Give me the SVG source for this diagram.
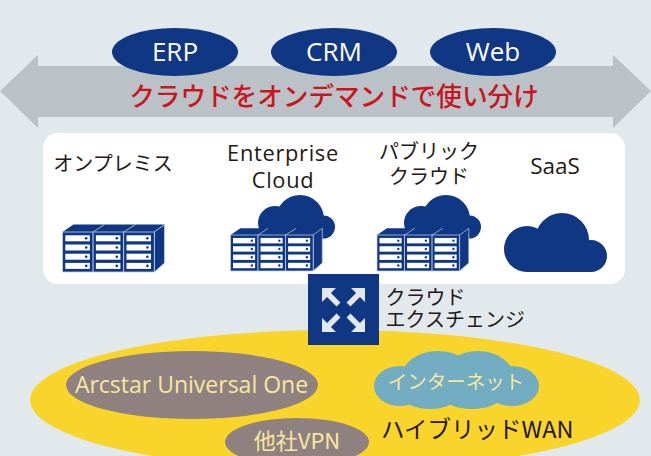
<svg xmlns="http://www.w3.org/2000/svg" xmlns:xlink="http://www.w3.org/1999/xlink" width="651" height="456" viewBox="0 0 651 456">
<style>
.t{font-family:"Open Sans","Noto Sans CJK JP",sans-serif;}
.j{font-family:"Noto Sans CJK JP",sans-serif;}
.n{fill:#0f3783;}
.k{fill:#231815;}
.w{fill:#fff;font-size:26px;text-anchor:middle;}
.s{fill:#fff;}
.y{fill:#f7e7a0;}
.g{fill:#8f817f;}
</style>
<defs>
<g id="unit">
<rect x="0" y="0" width="30.600" height="40" fill="#0f3783" stroke="#c6d0e2" stroke-width="0.800"/>
<g class="s">
<rect x="2.800" y="3.300" width="24.500" height="6"/><rect x="2.800" y="12.500" width="24.500" height="6"/><rect x="2.800" y="21.700" width="24.500" height="6"/><rect x="2.800" y="30.900" width="24.500" height="6"/>
</g>
<g class="n">
<circle cx="23.700" cy="6.300" r="1.300"/><circle cx="23.700" cy="15.500" r="1.300"/><circle cx="23.700" cy="24.700" r="1.300"/><circle cx="23.700" cy="33.900" r="1.300"/>
</g>
</g>
<g id="rack">
<path d="M0 0L11-7.500H102L91.800 0Z" fill="#0f3783"/>
<path d="M91.800 0L102-7.500V31L91.800 40Z" fill="#0f3783" stroke="#c6d0e2" stroke-width="0.800"/>
<path d="M30.600 0L42-7.500M61.200 0L73-7.500" stroke="#c6d0e2" stroke-width="0.800" fill="none"/>
<use xlink:href="#unit" x="0"/><use xlink:href="#unit" x="30.600"/><use xlink:href="#unit" x="61.200"/>
</g>
<path id="ar" d="M0 0H14L8.950 5.050L18.450 14.550L14.550 18.450L5.050 8.950L0 14Z" fill="#e2e8ed"/>
<g id="cloud" class="n">
<circle cx="300" cy="219" r="24"/><circle cx="275" cy="223" r="17"/><circle cx="323.500" cy="227" r="11.500"/><rect x="275" y="222" width="48" height="17"/>
</g>
</defs>
<rect width="651" height="456" fill="#e2e9ed"/>
<g id="connectors">
<path id="band" d="M0 91L38 55V66H613V55L651 91L613 128V117H38V128Z" fill="#bac1c7"/>
</g>
<g id="node-erp"><ellipse cx="175" cy="52" ry="24" rx="63" class="n"/><text x="175" y="60.500" class="t w">ERP</text></g>
<g id="node-crm"><ellipse cx="334" cy="52" rx="63" ry="24" class="n"/><text x="334" y="60.500" class="t w">CRM</text></g>
<g id="node-web"><ellipse cx="493" cy="52" rx="63" ry="24" class="n"/><text x="493" y="60.500" class="t w">Web</text></g>
<text id="title" x="334" y="106" class="j" font-size="25.600" font-weight="500" fill="#c9151e" text-anchor="middle">クラウドをオンデマンドで使い分け</text>
<rect id="panel" x="43" y="133" width="582" height="151" rx="15" fill="#fff"/>
<g id="node-onprem">
<text x="113" y="171" class="j k" font-size="20" text-anchor="middle">オンプレミス</text>
<use xlink:href="#rack" x="62.500" y="232"/>
</g>
<g id="node-enterprise">
<text x="283" y="161" class="t k" font-size="21.800" letter-spacing=".7" text-anchor="middle">Enterprise</text>
<text x="283" y="188" class="t k" font-size="21.800" letter-spacing=".7" text-anchor="middle">Cloud</text>
<use xlink:href="#cloud"/>
<use xlink:href="#rack" transform="translate(230.500 235) scale(.9)"/>
</g>
<g id="node-public">
<text x="429" y="159" class="j k" font-size="20" text-anchor="middle">パブリック</text>
<text x="429" y="184" class="j k" font-size="20" text-anchor="middle">クラウド</text>
<use xlink:href="#cloud" x="146"/>
<use xlink:href="#rack" transform="translate(377 235) scale(.9)"/>
</g>
<g id="node-saas">
<text x="555" y="174" class="t k" font-size="22.500" text-anchor="middle">SaaS</text>
<g class="n"><circle cx="562" cy="240" r="27"/><circle cx="527" cy="249" r="23"/><circle cx="591" cy="256" r="16"/><rect x="527" y="245" width="64" height="27"/></g>
</g>
<g id="wan">
<ellipse cx="335" cy="400" rx="305" ry="70" fill="#f9d52c"/>
<ellipse cx="192" cy="385" rx="126" ry="34" class="g"/>
<text x="191.500" y="393" class="t y" font-size="23" text-anchor="middle">Arcstar Universal One</text>
<ellipse cx="297" cy="442" rx="72" ry="24" class="g"/>
<text x="297" y="449" class="j y" font-size="22" text-anchor="middle">他社VPN</text>
<g fill="#72acc0"><ellipse cx="400" cy="386" rx="26" ry="20"/><ellipse cx="512" cy="386" rx="27" ry="20"/><ellipse cx="438" cy="378" rx="37" ry="27"/><ellipse cx="478" cy="378" rx="36" ry="27"/><ellipse cx="430" cy="393" rx="30" ry="16"/><ellipse cx="472" cy="393" rx="32" ry="16"/></g>
<text x="456" y="389" class="j y" font-size="19.500" text-anchor="middle">インターネット</text>
<text x="381" y="438" class="j k" font-size="23.500">ハイブリッドWAN</text>
</g>
<g id="node-exchange">
<rect x="308" y="274" width="71" height="71" class="n"/>
<use xlink:href="#ar" transform="translate(322 288)"/>
<use xlink:href="#ar" transform="translate(365 288) scale(-1 1)"/>
<use xlink:href="#ar" transform="translate(322 332) scale(1 -1)"/>
<use xlink:href="#ar" transform="translate(365 332) scale(-1 -1)"/>
<text x="385.500" y="305" class="j k" font-size="20">クラウド</text>
<text x="385.500" y="326.500" class="j k" font-size="20">エクスチェンジ</text>
</g>
</svg>
